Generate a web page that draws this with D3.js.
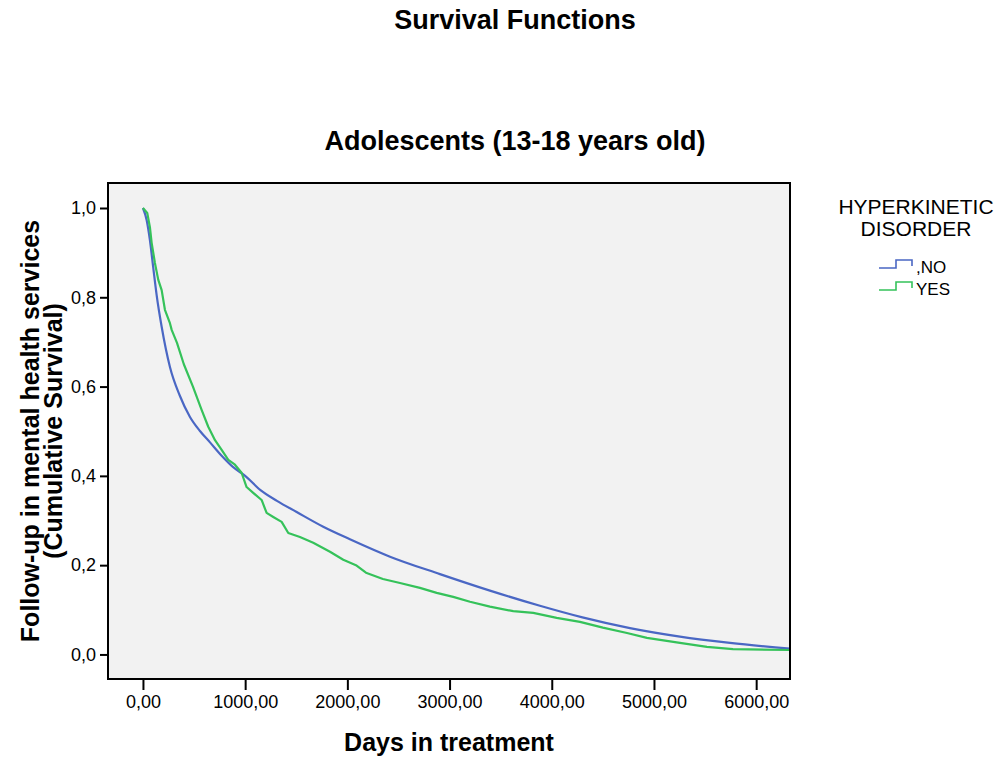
<!DOCTYPE html>
<html>
<head>
<meta charset="utf-8">
<script src="https://cdn.jsdelivr.net/npm/d3@7"></script>
<style>
  body { margin: 0; background: #fff; }
  text { font-family: "Liberation Sans", Arial, sans-serif; fill: #000; }
  .title { font-weight: bold; font-size: 27px; }
  .axis-label { font-weight: bold; font-size: 25px; }
</style>
</head>
<body>
<div id="canvas"></div>
<script>
// ---- DATA ----
// cumulative survival, days in treatment
var noDays = [0, 36, 68, 101, 134, 183, 264, 360, 460, 560, 656, 770, 880, 1000, 1150, 1311, 1504, 1764, 2025, 2417, 2906, 3395, 3884, 4300, 4765, 5254, 5744, 6330];
var noSurv = [1.0, 0.973, 0.928, 0.866, 0.805, 0.734, 0.644, 0.58, 0.532, 0.50, 0.475, 0.445, 0.42, 0.40, 0.368, 0.344, 0.319, 0.286, 0.258, 0.219, 0.180, 0.143, 0.109, 0.083, 0.059, 0.040, 0.026, 0.013];

var yesDays = [0, 42, 68, 85, 117, 150, 183, 215, 264, 281, 333, 400, 489, 574, 639, 705, 770, 835, 900, 965, 1014, 1079, 1161, 1210, 1275, 1357, 1422, 1536, 1666, 1830, 1960, 2084, 2182, 2348, 2515, 2710, 2874, 3036, 3200, 3395, 3623, 3819, 4048, 4276, 4500, 4736, 4931, 5254, 5518, 5773, 6330];
var yesSurv = [1.0, 0.989, 0.957, 0.922, 0.877, 0.839, 0.816, 0.772, 0.742, 0.727, 0.698, 0.650, 0.600, 0.548, 0.510, 0.480, 0.458, 0.436, 0.425, 0.407, 0.375, 0.362, 0.346, 0.317, 0.308, 0.297, 0.272, 0.263, 0.250, 0.230, 0.212, 0.200, 0.183, 0.169, 0.160, 0.149, 0.138, 0.129, 0.118, 0.107, 0.097, 0.093, 0.082, 0.073, 0.060, 0.048, 0.037, 0.026, 0.017, 0.012, 0.010];

var groupNames = [',NO', 'YES'];
var groupColors = ['#4a67c4', '#35c25a'];
var xTicks = [0, 1000, 2000, 3000, 4000, 5000, 6000];
var yTicks = [0, 0.2, 0.4, 0.6, 0.8, 1.0];

// ---- CONVENTIONS ----
var outerWidth = 1004, outerHeight = 762;
var margin = {top: 183, right: 214, bottom: 83, left: 108};
var width = outerWidth - margin.left - margin.right,
    height = outerHeight - margin.top - margin.bottom;

var svg = d3.select('#canvas')
    .append('svg')
    .attr('width', outerWidth)
    .attr('height', outerHeight);

var plot = svg.append('g')
    .attr('transform', 'translate(' + margin.left + ',' + margin.top + ')');

// ---- SCALES ----
var scaleX = d3.scaleLinear()
    .domain([-342, 6331])
    .range([0, width]);

var scaleY = d3.scaleLinear()
    .domain([-0.055, 1.056])
    .range([height, 0]);

// ---- BACKGROUND ----
plot.append('rect')
    .attr('width', width)
    .attr('height', height)
    .style('fill', '#f2f2f2');

// ---- AXES ----
var fmtX = function(d){ return d3.format('.2f')(d).replace('.', ','); };
var fmtY = function(d){ return d3.format('.1f')(d).replace('.', ','); };

var axisX = d3.axisBottom(scaleX).tickValues(xTicks).tickSize(11).tickPadding(5).tickFormat(fmtX);
var axisY = d3.axisLeft(scaleY).tickValues(yTicks).tickSize(8).tickPadding(4).tickFormat(fmtY);

var gx = plot.append('g').attr('class', 'axis axis-x')
    .attr('transform', 'translate(0,' + height + ')')
    .call(axisX);
var gy = plot.append('g').attr('class', 'axis axis-y')
    .call(axisY);

[gx, gy].forEach(function(g){
    g.select('.domain').remove();
    g.selectAll('.tick line').style('stroke', '#000').style('stroke-width', 2);
    g.selectAll('.tick text')
        .style('font-family', '"Liberation Sans", Arial, sans-serif')
        .style('font-size', '18px')
        .style('fill', '#000');
});

// ---- LINES ----
var series = [
    noDays.map(function(d, i){ return {day: d, surv: noSurv[i]}; }),
    yesDays.map(function(d, i){ return {day: d, surv: yesSurv[i]}; })
];
// NO group is dense enough to look smooth, YES group is visibly jagged
var curves = [d3.curveMonotoneX, d3.curveLinear];

plot.selectAll('.surv-line')
    .data(series)
    .enter()
    .append('path')
    .attr('class', 'surv-line')
    .attr('d', function(d, i){
        return d3.line()
            .x(function(p){ return scaleX(p.day); })
            .y(function(p){ return scaleY(p.surv); })
            .curve(curves[i])(d);
    })
    .style('fill', 'none')
    .style('stroke-width', 2.2)
    .style('stroke-linejoin', 'round')
    .style('stroke', function(d, i){ return groupColors[i]; });

// frame
plot.append('rect')
    .attr('width', width)
    .attr('height', height)
    .style('fill', 'none')
    .style('stroke', '#000')
    .style('stroke-width', 2);

// ---- TITLES ----
svg.append('text').attr('class', 'title')
    .attr('x', 515).attr('y', 29)
    .attr('text-anchor', 'middle')
    .text('Survival Functions');

svg.append('text').attr('class', 'title')
    .attr('x', 515).attr('y', 150)
    .attr('text-anchor', 'middle')
    .text('Adolescents (13-18 years old)');

svg.append('text').attr('class', 'axis-label')
    .attr('x', margin.left + width / 2).attr('y', 751)
    .attr('text-anchor', 'middle')
    .text('Days in treatment');

var yLab = svg.append('text').attr('class', 'axis-label')
    .attr('text-anchor', 'middle')
    .attr('transform', 'translate(0,' + (margin.top + height / 2) + ') rotate(-90)');
yLab.append('tspan').attr('x', 0).attr('y', 39).text('Follow-up in mental health services');
yLab.append('tspan').attr('x', 0).attr('y', 62).text('(Cumulative Survival)');

// ---- LEGEND ----
var legend = svg.append('g').attr('transform', 'translate(916,0)');
legend.append('text').attr('x', 0).attr('y', 214)
    .attr('text-anchor', 'middle').style('font-size', '21px').text('HYPERKINETIC');
legend.append('text').attr('x', 0).attr('y', 236)
    .attr('text-anchor', 'middle').style('font-size', '21px').text('DISORDER');

var items = legend.selectAll('.legend-item')
    .data(groupNames)
    .enter()
    .append('g')
    .attr('class', 'legend-item')
    .attr('transform', function(d, i){ return 'translate(0,' + (268 + i * 22) + ')'; });

items.append('path')
    .attr('d', 'M-37,0 H-20 V-8 H-4 V-2')
    .style('fill', 'none')
    .style('stroke-width', 1.6)
    .style('stroke', function(d, i){ return groupColors[i]; });

items.append('text')
    .attr('x', 0).attr('y', 5)
    .style('font-size', '17px')
    .text(function(d){ return d; });
</script>
</body>
</html>
